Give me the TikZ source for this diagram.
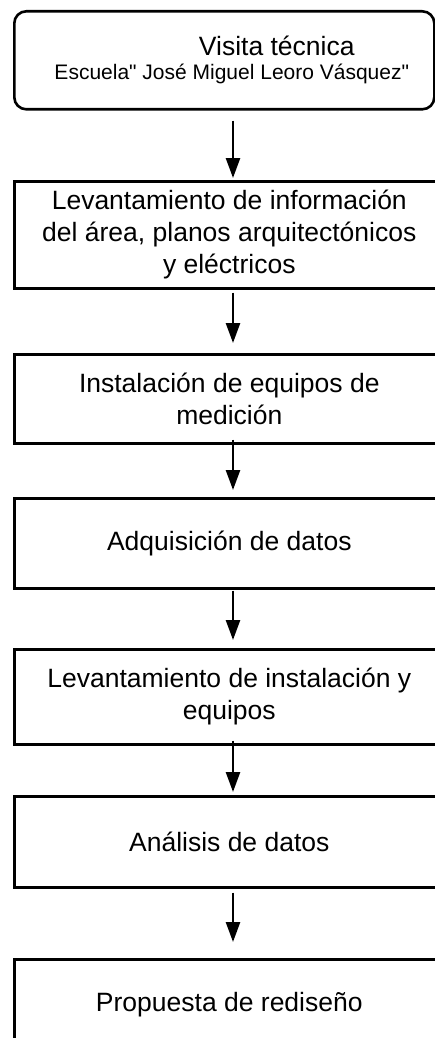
\documentclass[tikz,border=0pt]{standalone}
\usepackage{fontspec}
\setmainfont{Liberation Sans}[Ligatures=TeXOff]
\usetikzlibrary{arrows.meta}
\begin{document}
\begin{tikzpicture}[x=1pt,y=-1pt,
  box/.style={draw, line width=2.6pt, rectangle, anchor=north west, inner sep=0pt,
    minimum width=430pt, align=center, font=\fontsize{26.5}{32}\selectfont},
  arr/.style={-{Triangle[width=14pt,length=20pt]}, line width=2.6pt}]
\fill[white] (0,0) rectangle (435,1038);
\useasboundingbox (0,0) rectangle (435,1038);
\clip (0,0) rectangle (435,1038);
\coordinate (ax) at (233,0);
\node[box, rounded corners=12pt, minimum width=420pt, minimum height=98pt] (b1) at (13,10)
  {\hspace*{105pt}Visita técnica\\[-8pt]{\fontsize{21}{25}\selectfont\hspace*{15pt}Escuela" José Miguel Leoro Vásquez"}};
\node[box, minimum height=107pt] (b2) at (13,180)
  {Levantamiento de información\\del área, planos arquitectónicos\\y eléctricos};
\node[box, minimum height=89pt] (b3) at (13,353)
  {Instalación de equipos de\\medición};
\node[box, minimum height=90pt] (b4) at (13,497)
  {Adquisición de datos};
\node[box, minimum height=95pt] (b5) at (13,648)
  {Levantamiento de instalación y\\equipos};
\node[box, minimum height=91pt] (b6) at (13,795)
  {Análisis de datos};
\node[box, minimum height=90pt] (b7) at (13,958)
  {Propuesta de rediseño};
\draw[arr, shorten <=10pt, shorten >=2pt] (b1.south -| ax) -- (b2.north -| ax);
\draw[arr, shorten <=3pt, shorten >=10pt] (b2.south -| ax) -- (b3.north -| ax);
\draw[arr, shorten <=-5pt, shorten >=7pt] (b3.south -| ax) -- (b4.north -| ax);
\draw[arr, shorten <=1pt, shorten >=8pt] (b4.south -| ax) -- (b5.north -| ax);
\draw[arr, shorten <=-5pt, shorten >=3pt] (b5.south -| ax) -- (b6.north -| ax);
\draw[arr, shorten <=4pt, shorten >=16pt] (b6.south -| ax) -- (b7.north -| ax);
\end{tikzpicture}
\end{document}
